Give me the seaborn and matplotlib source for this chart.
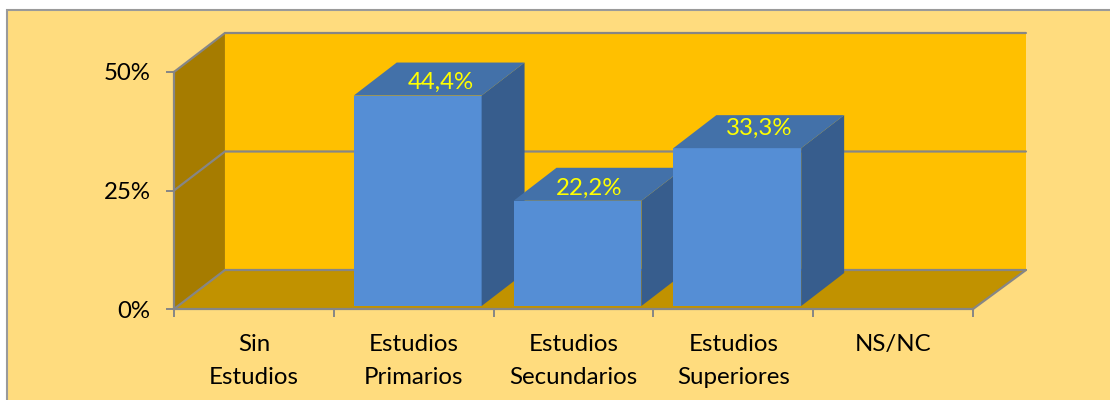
from matplotlib import pyplot as plt
from matplotlib.patches import Polygon, Rectangle
from matplotlib.ticker import PercentFormatter
import seaborn as sns

categories = ["Sin\nEstudios", "Estudios\nPrimarios", "Estudios\nSecundarios", "Estudios\nSuperiores", "NS/NC"]
values = [0, 44.4, 22.2, 33.3, 0]
y_ticks = [0, 25, 50]

PX_X = 160  # pixels per category
PX_Y = 237 / 50  # pixels per percent
wall_dx, wall_dy = 51 / PX_X, 39 / PX_Y
wall_dx_right = 53 / PX_X  # back wall is a bit wider than the front
bar_dx, bar_dy = 43 / PX_X, 33 / PX_Y
shift_x, shift_y = 4 / PX_X, 3 / PX_Y
label_nudge = [(0, 0), (2, 3), (-10, 4), (0, -3), (0, 0)]  # px, labels are not quite centred on the top faces

GREY = "#868686"
FONT_SIZE = 17.3

sns.set_theme(style="white", font="Lato")
fig = plt.figure(figsize=(11.1, 4), dpi=100, facecolor="white")
fig.add_artist(Rectangle((7 / 1110, -0.05), 1.1, 0.05 + 390 / 400, transform=fig.transFigure,
                         facecolor="#FFDC7E", edgecolor="#9A9A9A", linewidth=1.5, zorder=-1))
ax = fig.add_axes([174 / 1110, (400 - 309) / 400, 799 / 1110, 237 / 400])
ax.patch.set_visible(False)

sns.barplot(x=categories, y=values, ax=ax, color="#558ED5", saturation=1, width=0.8, zorder=3,
            edgecolor="none", linewidth=0)
ax.set_xlim(-0.5, 4.5)
ax.set_ylim(0, 50)

# walls of the 3D box
x0, x1 = ax.get_xlim()
y0, y1 = ax.get_ylim()
ax.add_patch(Polygon([(x0 + wall_dx, y0 + wall_dy), (x1 + wall_dx_right, y0 + wall_dy),
                      (x1 + wall_dx_right, y1 + wall_dy), (x0 + wall_dx, y1 + wall_dy)],
                     facecolor="#FFC000", edgecolor="none", clip_on=False, zorder=1))
ax.add_patch(Polygon([(x0, y0), (x0 + wall_dx, y0 + wall_dy), (x0 + wall_dx, y1 + wall_dy), (x0, y1)],
                     facecolor="#A67C00", edgecolor="none", clip_on=False, zorder=1))
ax.add_patch(Polygon([(x0, y0), (x1, y0), (x1 + wall_dx_right, y0 + wall_dy), (x0 + wall_dx, y0 + wall_dy)],
                     facecolor="#C19200", edgecolor="none", clip_on=False, zorder=1))

# gridlines run along the side wall and the back wall
for t in y_ticks:
    ax.plot([x0, x0 + wall_dx, x1 + wall_dx_right], [t, t + wall_dy, t + wall_dy],
            color=GREY, lw=1.6, clip_on=False, zorder=2, solid_joinstyle="miter")
ax.plot([x1, x1 + wall_dx_right], [y0, y0 + wall_dy], color=GREY, lw=1.6, clip_on=False, zorder=2)

for i, bar in enumerate(ax.patches[:len(values)]):
    v = values[i]
    if v == 0:
        continue
    bar.set_x(bar.get_x() + shift_x)
    bar.set_y(shift_y)
    bar.set_zorder(3 + i)
    left, right = bar.get_x(), bar.get_x() + bar.get_width()
    bottom, top = shift_y, shift_y + v
    ax.add_patch(Polygon([(right, bottom), (right + bar_dx, bottom + bar_dy),
                          (right + bar_dx, top + bar_dy), (right, top)],
                         facecolor="#375D8D", edgecolor="none", clip_on=False, zorder=3 + i))
    ax.add_patch(Polygon([(left, top), (right, top), (right + bar_dx, top + bar_dy), (left + bar_dx, top + bar_dy)],
                         facecolor="#4371A9", edgecolor="none", clip_on=False, zorder=3 + i))
    ax.text((left + right + bar_dx) / 2 + label_nudge[i][0] / PX_X, top + bar_dy / 2 - label_nudge[i][1] / PX_Y,
            f"{v:.1f}%".replace(".", ","), ha="center", va="center", color="#FFFF00", fontsize=FONT_SIZE, zorder=10)

sns.despine(ax=ax, top=True, right=True)
for side in ["left", "bottom"]:
    ax.spines[side].set_color(GREY)
    ax.spines[side].set_linewidth(1.6)
    ax.spines[side].set_zorder(9)

ax.set_yticks(y_ticks)
ax.yaxis.set_major_formatter(PercentFormatter(decimals=0))
ax.tick_params(axis="y", left=True, length=5.5, width=1.4, color=GREY, labelsize=FONT_SIZE, labelcolor="black", pad=11.5)
# category labels sit between the ticks
ax.set_xticks(range(len(categories)))
ax.set_xticklabels(categories, linespacing=1.7)
ax.set_xticks([x0 + k for k in range(len(categories) + 1)], minor=True)
ax.tick_params(axis="x", which="major", length=0, labelsize=FONT_SIZE, labelcolor="black", pad=18)
ax.tick_params(axis="x", which="minor", bottom=True, length=5.5, width=1.4, color=GREY)

fig.savefig("out.png", dpi=100)
